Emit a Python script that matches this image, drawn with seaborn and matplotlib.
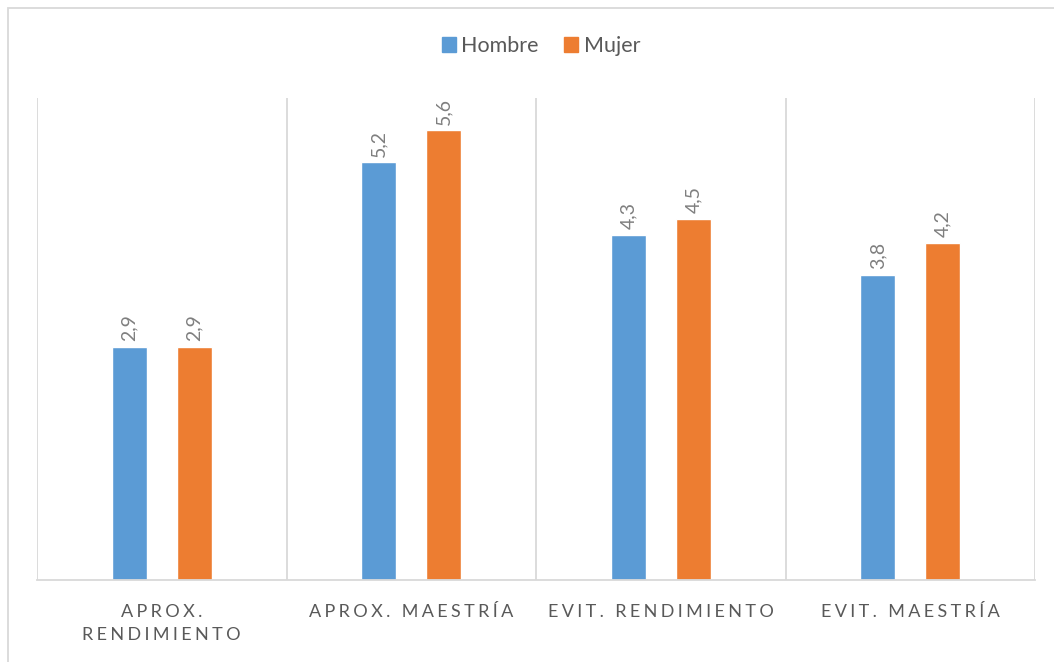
import matplotlib
matplotlib.use("Agg")
import matplotlib.pyplot as plt
from matplotlib.patches import Rectangle
import seaborn as sns
import pandas as pd

categories = ["APROX.\nRENDIMIENTO", "APROX. MAESTRÍA", "EVIT. RENDIMIENTO", "EVIT. MAESTRÍA"]
hombre = [2.9, 5.2, 4.3, 3.8]
mujer = [2.9, 5.6, 4.5, 4.2]
series = ["Hombre", "Mujer"]
colors = ["#5B9BD5", "#ED7D31"]

df = pd.DataFrame({
    "categoria": categories * 2,
    "sexo": [series[0]] * len(categories) + [series[1]] * len(categories),
    "valor": hombre + mujer,
})

sns.set_theme(style="white")
plt.rcParams["font.family"] = ["Lato", "DejaVu Sans"]

fig = plt.figure(figsize=(10.54, 6.62), dpi=100)
ax = fig.add_axes([37 / 1054, 82 / 662, 998 / 1054, 482 / 662])

sns.barplot(data=df, x="categoria", y="valor", hue="sexo", order=categories,
            hue_order=series, palette=colors, width=0.52, gap=0.46,
            saturation=1, ax=ax, legend=False)

ax.set_xlim(-0.5, 3.5)
ax.set_ylim(0, 6)
ax.set_yticks([])
ax.set_xlabel("")
ax.set_ylabel("")

grid_c = "#D9D9D9"
for s in ["top", "right", "left"]:
    ax.spines[s].set_visible(False)
ax.spines["bottom"].set_color(grid_c)
ax.spines["bottom"].set_linewidth(1.3)
for xs in [-0.5, 0.5, 1.5, 2.5, 3.5]:
    ax.axvline(xs, color=grid_c, lw=1.3, zorder=0)


def spaced(text):
    # widen the tracking of axis labels
    sep = "\u2009\u200a"
    return "\n".join(sep.join(line) for line in text.split("\n"))


ax.set_xticks(range(len(categories)))
ax.set_xticklabels([spaced(c) for c in categories], fontsize=13,
                   color="#595959", linespacing=1.55)
ax.tick_params(axis="x", length=0, pad=17)

# value labels above each bar
for cont, vals in zip(ax.containers, [hombre, mujer]):
    for bar, v in zip(cont, vals):
        ax.annotate(f"{v:.1f}".replace(".", ","),
                    (bar.get_x() + bar.get_width() / 2, bar.get_height()),
                    xytext=(0, 4), textcoords="offset points",
                    rotation=90, ha="center", va="bottom",
                    fontsize=14, color="#7F7F7F")

handles = [Rectangle((0, 0), 1, 1, color=c) for c in colors]
fig.legend(handles, series, loc="center", bbox_to_anchor=(541 / 1054, 1 - 46 / 662),
           ncol=2, frameon=False, fontsize=15.5, handlelength=0.65,
           handleheight=0.65, handletextpad=0.25, columnspacing=1.2,
           labelcolor="#595959")

fig.patches.append(Rectangle((8 / 1054, -0.05), 1.2, 1 - 8 / 662 + 0.05,
                             transform=fig.transFigure, fill=False,
                             edgecolor=grid_c, lw=1.3))

fig.savefig("out.png", dpi=100)
